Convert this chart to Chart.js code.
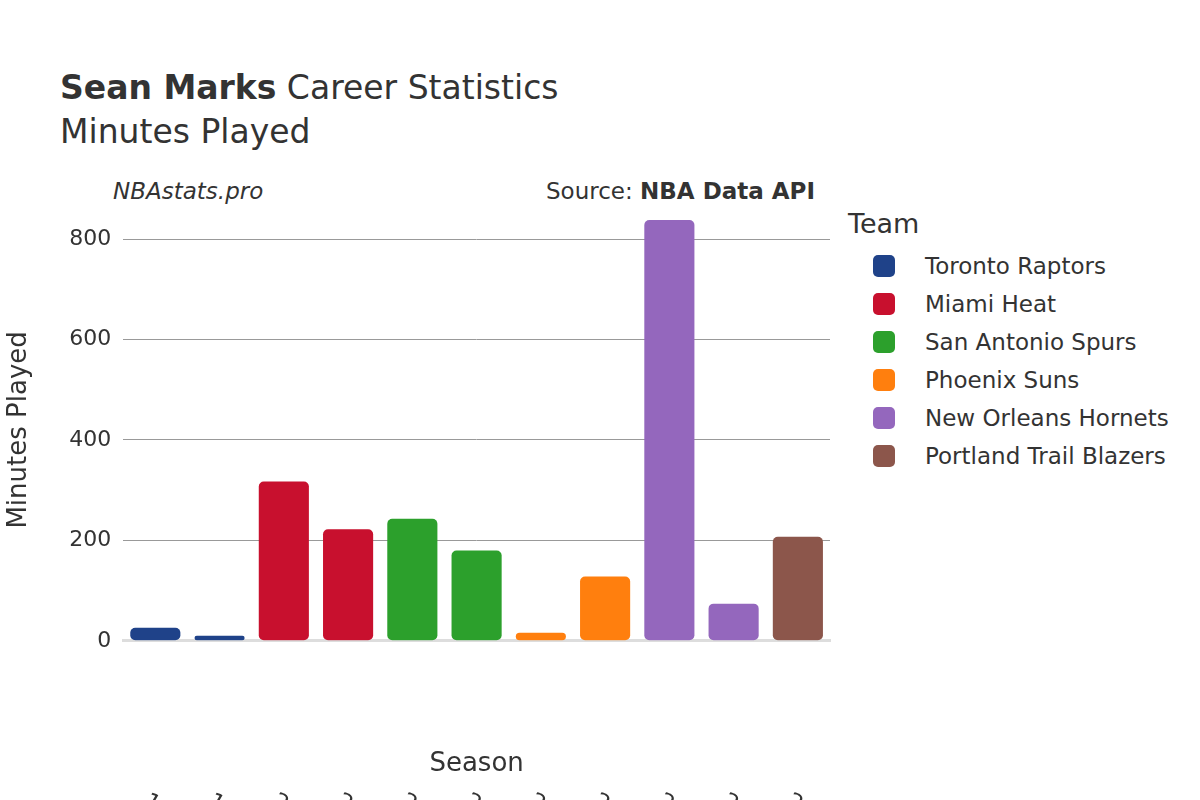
<!DOCTYPE html>
<html>
<head>
<meta charset="utf-8">
<script src="https://cdn.jsdelivr.net/npm/chart.js@4"></script>
<style>
  body { margin: 0; background: #fff; font-family: "DejaVu Sans", sans-serif; }
  #wrap { position: relative; width: 1200px; height: 800px; }
  .t { position: absolute; color: #333; white-space: nowrap; }
  #legenda { position: absolute; left: 848px; top: 208px; color: #333; }
  #legenda .item { display: flex; align-items: center; height: 38px; font-size: 23px; }
  #legenda .box { width: 22px; height: 22px; border-radius: 5px; margin: 0 30px 0 25px; }
</style>
</head>
<body>
<div id="wrap">
  <div class="t" style="left:60px;top:68px;font-size:33px;"><b>Sean Marks</b> Career Statistics</div>
  <div class="t" style="left:60px;top:112px;font-size:33px;">Minutes Played</div>
  <div class="t" style="left:113px;top:178px;font-size:23px;font-style:italic;">NBAstats.pro</div>
  <div class="t" style="left:546px;top:178px;font-size:23px;">Source: <b>NBA Data API</b></div>
  <div id="legenda"><div style="font-size:27px;margin-bottom:8px;">Team</div></div>
  <canvas id="grafico" width="1200" height="800" style="position:absolute;left:0;top:0;"></canvas>
</div>
<script>
const temporadas = ["1998-99", "1999-00", "2001-02", "2002-03", "2004-05", "2005-06", "2006-07", "2007-08", "2008-09", "2009-10", "2010-11"];
const times = ["Toronto Raptors", "Miami Heat", "San Antonio Spurs", "Phoenix Suns", "New Orleans Hornets", "Portland Trail Blazers"];
const cores = ["#1f4289", "#c8102e", "#2ca02c", "#ff7f0e", "#9467bd", "#8c564b"];
const timePorTemporada = [0, 0, 1, 1, 2, 2, 3, 3, 4, 4, 5];
const minutos = [26, 10, 317, 222, 243, 180, 16, 128, 838, 74, 207];

const legenda = document.getElementById("legenda");
times.forEach((time, i) => {
    legenda.insertAdjacentHTML("beforeend",
        `<div class="item"><span class="box" style="background:${cores[i]}"></span>${time}</div>`);
});

const datasets = times.map((time, i) => ({
    label: time,
    data: minutos.map((m, j) => timePorTemporada[j] === i ? m : null),
    backgroundColor: cores[i],
    borderRadius: 5,
    borderSkipped: false,
    categoryPercentage: 0.78,
    barPercentage: 1
}));

// rótulos do eixo x inclinados para baixo/direita
const rotulosX = {
    id: "rotulosX",
    afterDraw(chart) {
        const ctx = chart.ctx;
        const x = chart.scales.x;
        ctx.save();
        ctx.font = "23px 'DejaVu Sans'";
        ctx.fillStyle = "#333";
        ctx.textAlign = "left";
        ctx.textBaseline = "middle";
        temporadas.forEach((t, i) => {
            ctx.save();
            ctx.translate(x.getPixelForValue(i) - 10, x.bottom + 20);
            ctx.rotate(Math.PI / 6);
            ctx.fillText(t.replace("-", "–"), 0, 0);
            ctx.restore();
        });
        ctx.restore();
    }
};

Chart.defaults.font.family = "DejaVu Sans";
Chart.defaults.color = "#333";

new Chart(document.getElementById("grafico"), {
    type: "bar",
    data: { labels: temporadas, datasets: datasets },
    plugins: [rotulosX],
    options: {
        responsive: false,
        animation: false,
        layout: { padding: { top: 219, left: 0, right: 370, bottom: 20 } },
        plugins: { legend: { display: false }, tooltip: { enabled: false } },
        scales: {
            x: {
                stacked: true,
                grid: { display: false },
                border: { color: "#ddd", width: 3 },
                ticks: { display: false },
                title: { display: true, text: "Season", font: { size: 26 }, padding: { top: 100, bottom: 0 } }
            },
            y: {
                stacked: true,
                min: 0, max: 840,
                afterBuildTicks: axis => { axis.ticks = [0, 200, 400, 600, 800].map(v => ({ value: v })); },
                grid: { color: "#999", drawTicks: false },
                border: { display: false },
                ticks: { font: { size: 22 }, padding: 12 },
                title: { display: true, text: "Minutes Played", font: { size: 26 }, padding: { bottom: 22 } }
            }
        }
    }
});
</script>
</body>
</html>
